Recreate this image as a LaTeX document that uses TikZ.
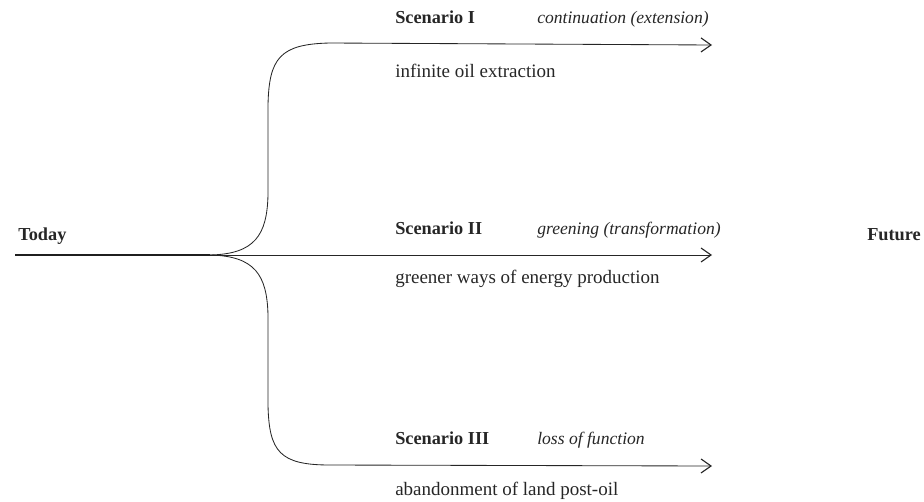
\documentclass[tikz,border=0pt]{standalone}
\usepackage{fontspec}
\setmainfont{Liberation Serif}
\usetikzlibrary{arrows.meta}
\tikzset{
  trunk/.style={line width=1.3pt, color=black!88},
  branch/.style={line width=0.6pt, color=black!85},
  tipbarb/.style={-{Straight Barb[length=2.5mm,width=3.5mm,line width=0.8pt]}},
  lbl/.style={anchor=base west, inner sep=0pt, color=black!85, font=\fontsize{13.5}{16}\selectfont},
  bold lbl/.style={lbl, font=\fontsize{13}{16}\selectfont\bfseries},
  kind lbl/.style={lbl, font=\fontsize{12.5}{15}\selectfont\itshape},
}

\begin{document}
\begin{tikzpicture}[x=0.025cm,y=-0.025cm]
			%%%%% START %%%%%
			\useasboundingbox (0,0) rectangle (924,501);
			
			\coordinate (start) at (15,255);
			\coordinate (split) at (210,255);
			\coordinate (end1) at (712,45);
			\coordinate (end2) at (712,255);
			\coordinate (end3) at (712,466);
			
			\draw[trunk] (start) -- (split);
			
			\draw[branch, tipbarb] (split) .. controls (255,254) and (267,235) .. (268,195) -- (268,105) .. controls (269,58) and (280,44) .. (330,43) -- (end1);
			\draw[branch, tipbarb] (split) -- (end2);
			\draw[branch, tipbarb] (split) .. controls (255,256) and (267,275) .. (268,315) -- (268,405) .. controls (269,452) and (280,465) .. (330,465) -- (end3);
			
			\node[bold lbl] (today) at (18,240) {Today};
			\node[bold lbl] (future) at (867,240) {Future};
			
			\node[bold lbl] (scen1) at (395,23) {Scenario I};
			\node[kind lbl] (kind1) at (537,23) {continuation (extension)};
			\node[lbl] (desc1) at (395,77) {infinite oil extraction};
			
			\node[bold lbl] (scen2) at (395,234) {Scenario II};
			\node[kind lbl] (kind2) at (537,234) {greening (transformation)};
			\node[lbl] (desc2) at (395,283) {greener ways of energy production};
			
			\node[bold lbl] (scen3) at (395,444) {Scenario III};
			\node[kind lbl] (kind3) at (537,444) {loss of function};
			\node[lbl] (desc3) at (395,495) {abandonment of land post-oil};
			
			%%%%% END %%%%%
		\end{tikzpicture}
\end{document}
